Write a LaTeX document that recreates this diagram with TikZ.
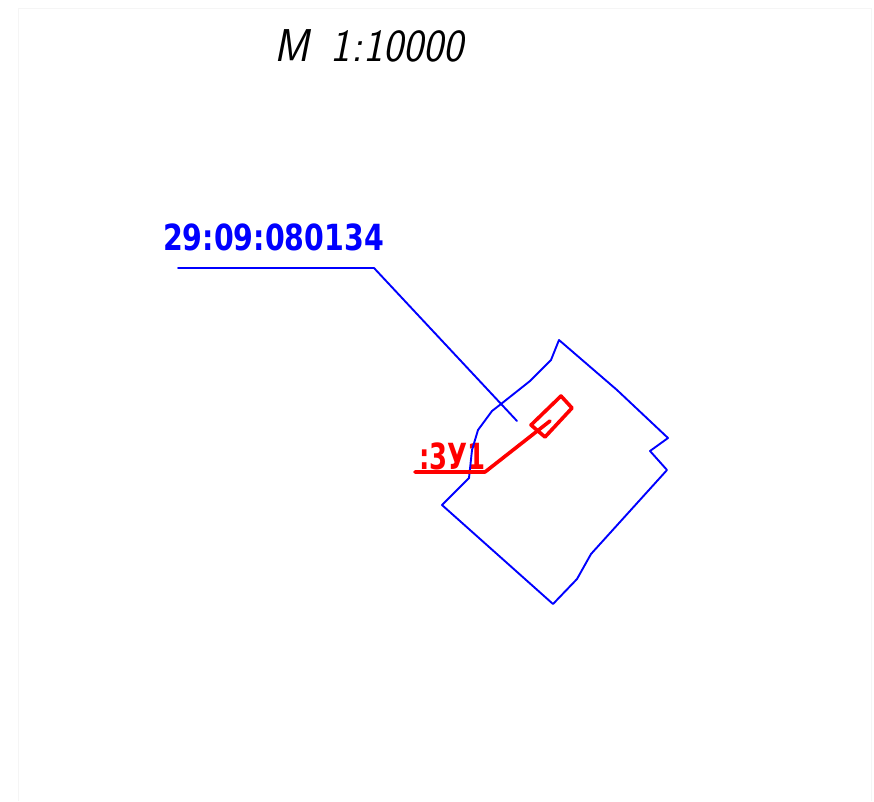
\documentclass[tikz,border=0pt]{standalone}
\usepackage{fontspec}
\newfontfamily\cadfont{DejaVu Sans}[Scale=1]
\begin{document}
\begin{tikzpicture}[x=1pt,y=-1pt,
  frameline/.style={draw=black!4,line width=0.8pt},
  blueline/.style={draw=blue,line width=1.9pt,line join=round,line cap=round},
  redline/.style={draw=red,line width=3.6pt,line join=round,line cap=round},
  titletext/.style={inner sep=0pt,anchor=center,text=black,font=\fontsize{46}{46}\sffamily\slshape},
  bluetext/.style={inner sep=0pt,anchor=center,text=blue},
  redtext/.style={inner sep=0pt,anchor=center,text=red}]
\useasboundingbox (0,0) rectangle (874,801);
\fill[white] (0,0) rectangle (874,801);
\draw[frameline] (18,801) -- (18,8) -- (871,8) -- (871,801);
\node[titletext] (title) at (369,46) {\scalebox{0.92}[1]{M\hspace{0.5em}1\kern1pt:\kern1pt10000}};
\node[bluetext] (parcel) at (273.5,237) {\scalebox{0.79}[1]{\cadfont\bfseries\fontsize{36}{36}\selectfont 29:09:080134}};
\node[redtext] (plot) at (452.5,456) {\scalebox{0.72}[1]{\cadfont\bfseries\fontsize{36}{36}\selectfont :3У1}};
\coordinate (la) at (178,268);
\coordinate (lb) at (374,268);
\coordinate (lc) at (517,421);
\draw[blueline] (la) -- (lb) -- (lc);
\draw[blueline] (559,340) -- (551,360) -- (530,381) -- (501,404) -- (492,411) -- (478,430) -- (472,450) -- (469,478) -- (442,505) -- (553,604) -- (577,579) -- (591,554) -- (667,470) -- (650,451) -- (668,438) -- (617,390) -- cycle;
\coordinate (ra) at (415,472);
\coordinate (rb) at (485,472);
\coordinate (rc) at (550,421);
\draw[redline] (ra) -- (rb) -- (rc);
\draw[redline] (561,396) -- (572,408) -- (545,437) -- (531,425) -- cycle;
\end{tikzpicture}
\end{document}
